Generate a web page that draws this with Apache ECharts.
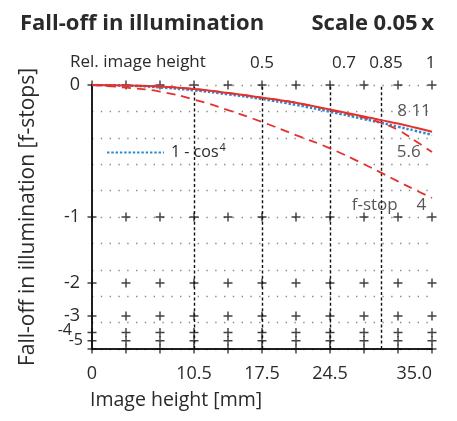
<!DOCTYPE html>
<html>
<head>
<meta charset="utf-8">
<script src="https://cdn.jsdelivr.net/npm/echarts@6/dist/echarts.min.js"></script>
<style>html,body{margin:0;padding:0;background:#fff}#c{width:457px;height:421px}</style>
</head>
<body>
<div id="c"></div>
<script>
// ---- data ----
const imageHeight = [0, 3.5, 7, 10.5, 14, 17.5, 21, 24.5, 28, 29.75, 31.5, 33.25, 35];
const cos4   = [1.0, 0.998, 0.991, 0.980, 0.965, 0.947, 0.925, 0.899, 0.871, 0.857, 0.842, 0.827, 0.811];
const fStop4 = [1.0, 0.990, 0.975, 0.945, 0.905, 0.860, 0.810, 0.760, 0.700, 0.668, 0.635, 0.603, 0.572];
const fStop56 = [1.0, 0.998, 0.994, 0.985, 0.970, 0.952, 0.933, 0.905, 0.876, 0.857, 0.830, 0.789, 0.746];
const fStop8_11 = [1.0, 0.998, 0.994, 0.985, 0.970, 0.952, 0.933, 0.907, 0.881, 0.867, 0.854, 0.839, 0.823];
const xTicks = [0, 3.5, 7, 10.5, 14, 17.5, 21, 24.5, 28, 31.5, 35];
const xLabelVals = [0, 10.5, 17.5, 24.5, 35];
const relHeightVals = [0.5, 0.7, 0.85, 1];
const stopLevels = [1, 0.5, 0.25, 0.125, 0.0625, 0.03125];
const stopLabels = ['0', '-1', '-2', '-3', '-4', '-5'];
const guideLines = [10.5, 17.5, 24.5, 29.75];

// ---- chart ----
const FONT = '"Open Sans", "Noto Sans", sans-serif';
const TXT = '#2a2a2a';
const RED = '#e3322d';
const BLUE = '#2a8ad0';
const chart = echarts.init(document.getElementById('c'), null, {renderer: 'canvas'});

const toPairs = ys => imageHeight.map((x, i) => [x, ys[i]]);
const crossLevels = stopLevels.concat([0]);
const crosses = [];
xTicks.forEach(x => crossLevels.forEach(y => crosses.push([x, y])));
const stopLabel = v => stopLabels[stopLevels.indexOf(v)];

// helper: an extra, invisible left axis carrying a single f-stop label
const labelAxis = (vals, size, pad) => ({
  type: 'value', min: 0, max: 1, position: 'left',
  axisLine: {show: false}, axisTick: {show: false}, splitLine: {show: false},
  axisLabel: {customValues: vals, margin: 9, hideOverlap: false,
    formatter: v => '{n|' + stopLabel(v) + '}',
    rich: {n: {fontSize: size, fontFamily: FONT, color: TXT, padding: pad}}}
});

chart.setOption({
  animation: false,
  textStyle: {fontFamily: FONT, color: TXT},
  title: [
    {text: 'Fall-off in illumination', left: 15, top: 8,
     textStyle: {fontFamily: FONT, fontSize: 22, fontWeight: 'bold', color: TXT}},
    {text: 'Scale 0.05\u2009x', right: 18, top: 8,
     textStyle: {fontFamily: FONT, fontSize: 22, fontWeight: 'bold', color: TXT}},
    {text: 'Rel. image height', left: 65, top: 49,
     textStyle: {fontFamily: FONT, fontSize: 17, fontWeight: 'normal', color: TXT}},
    {text: 'Image height [mm]', left: 85, top: 385,
     textStyle: {fontFamily: FONT, fontSize: 19.5, fontWeight: 'normal', color: TXT}}
  ],
  legend: {
    left: 106, top: 142, padding: 0, itemWidth: 57, itemHeight: 14,
    data: [{name: 'cos4'}],
    itemStyle: {opacity: 0},
    formatter: () => '{t|1 - cos}{s|4}',
    textStyle: {fontFamily: FONT, color: TXT, rich: {
      t: {fontSize: 16, fontFamily: FONT, color: TXT, padding: [0, 0, 0, 2]},
      s: {fontSize: 11, fontFamily: FONT, color: TXT, padding: [0, 0, 10, 1]}
    }}
  },
  grid: {left: 92, right: 25, top: 85, bottom: 72},
  xAxis: [
    {type: 'value', min: 0, max: 35, position: 'bottom',
     axisLine: {show: true, lineStyle: {color: '#111', width: 1.5}},
     axisTick: {show: false}, splitLine: {show: false},
     axisLabel: {customValues: xLabelVals, fontSize: 18, color: TXT, margin: 16,
       formatter: v => v === 35 ? '35.0' : String(v), alignMaxLabel: 'right'}},
    {type: 'value', min: 0, max: 1, position: 'top',
     axisLine: {show: true, lineStyle: {color: '#111', width: 1.5}},
     axisTick: {show: false}, splitLine: {show: false},
     axisLabel: {customValues: relHeightVals, fontSize: 17, color: TXT, margin: 13,
       formatter: v => '{a' + String(v).replace('.', '_') + '|' + v + '}',
       rich: {
         a0_5: {fontSize: 17, fontFamily: FONT, color: TXT, padding: [0, 0, 0, 0]},
         a0_7: {fontSize: 17, fontFamily: FONT, color: TXT, padding: [0, 0, 0, 28]},
         a0_85: {fontSize: 17, fontFamily: FONT, color: TXT, padding: [0, 0, 0, 10]},
         a1: {fontSize: 17, fontFamily: FONT, color: TXT, padding: [0, 3, 0, 0]}
       }}}
  ],
  yAxis: [
    {type: 'value', min: 0, max: 1, position: 'left',
     axisLine: {show: true, lineStyle: {color: '#111', width: 1.5}},
     axisTick: {show: false}, splitLine: {show: false},
     axisLabel: {customValues: stopLevels.slice(0, 4), margin: 9, hideOverlap: false,
       formatter: v => '{n|' + stopLabel(v) + '}',
       rich: {n: {fontSize: 18, fontFamily: FONT, color: TXT, padding: [0, 3, 0, 0]}}},
     name: 'Fall-off in illumination [f-stops]', nameLocation: 'middle', nameGap: 53, nameRotate: 90,
     nameTextStyle: {fontSize: 21, fontFamily: FONT, color: TXT}},
    {type: 'value', min: 0, max: 1, interval: 0.1, position: 'right',
     axisLine: {show: true, lineStyle: {color: '#111', width: 1.5}},
     axisTick: {show: false}, axisLabel: {show: false},
     splitLine: {show: true, lineStyle: {color: '#8a8a8a', width: 1.4, type: [1.4, 7.4]}}},
    labelAxis(stopLevels.slice(4, 5), 16, [0, 11, 4, 0]),
    labelAxis(stopLevels.slice(5), 16, [0, 0, 0, 0])
  ],
  series: [
    {type: 'line', name: 'guides', data: [], xAxisIndex: 0, yAxisIndex: 0, silent: true,
     markLine: {silent: true, symbol: ['none', 'none'], label: {show: false},
       lineStyle: {color: '#111', width: 1.4, type: [3, 2.4]},
       data: guideLines.map(v => ({xAxis: v}))}},
    {type: 'scatter', name: 'crosses', data: crosses, xAxisIndex: 0, yAxisIndex: 0, silent: true,
     clip: false, z: 5,
     symbol: 'path://M0,4.2H10V5.8H0Z M4.2,0H5.8V10H4.2Z', symbolSize: 9,
     itemStyle: {color: '#111'}},
    {type: 'line', name: 'cos4', data: toPairs(cos4), smooth: true, showSymbol: false, symbol: 'none',
     z: 6, lineStyle: {color: BLUE, width: 2.6, type: [2.4, 1.9]}, itemStyle: {color: BLUE}},
    {type: 'line', name: 'f4', data: toPairs(fStop4), smooth: true, showSymbol: false, symbol: 'none',
     z: 7, lineStyle: {color: RED, width: 1.8, type: [9, 6]}},
    {type: 'line', name: 'f5.6', data: toPairs(fStop56), smooth: true, showSymbol: false, symbol: 'none',
     z: 7, lineStyle: {color: RED, width: 1.8, type: [9, 6]}},
    {type: 'line', name: 'f8_11', data: toPairs(fStop8_11), smooth: true, showSymbol: false, symbol: 'none',
     z: 8, lineStyle: {color: RED, width: 2}},
    {type: 'scatter', name: 'notes', silent: true, symbolSize: 0, z: 9,
     label: {show: true, position: 'inside', fontSize: 17, fontFamily: FONT, color: TXT,
       textBorderWidth: 0, formatter: p => p.data.t},
     data: [
       {value: [33.15, 0.90], t: '8 11'},
       {value: [32.6, 0.746], t: '5.6'},
       {value: [29.1, 0.545], t: 'f-stop'},
       {value: [33.9, 0.545], t: '4'}
     ]}
  ]
});
</script>
</body>
</html>
